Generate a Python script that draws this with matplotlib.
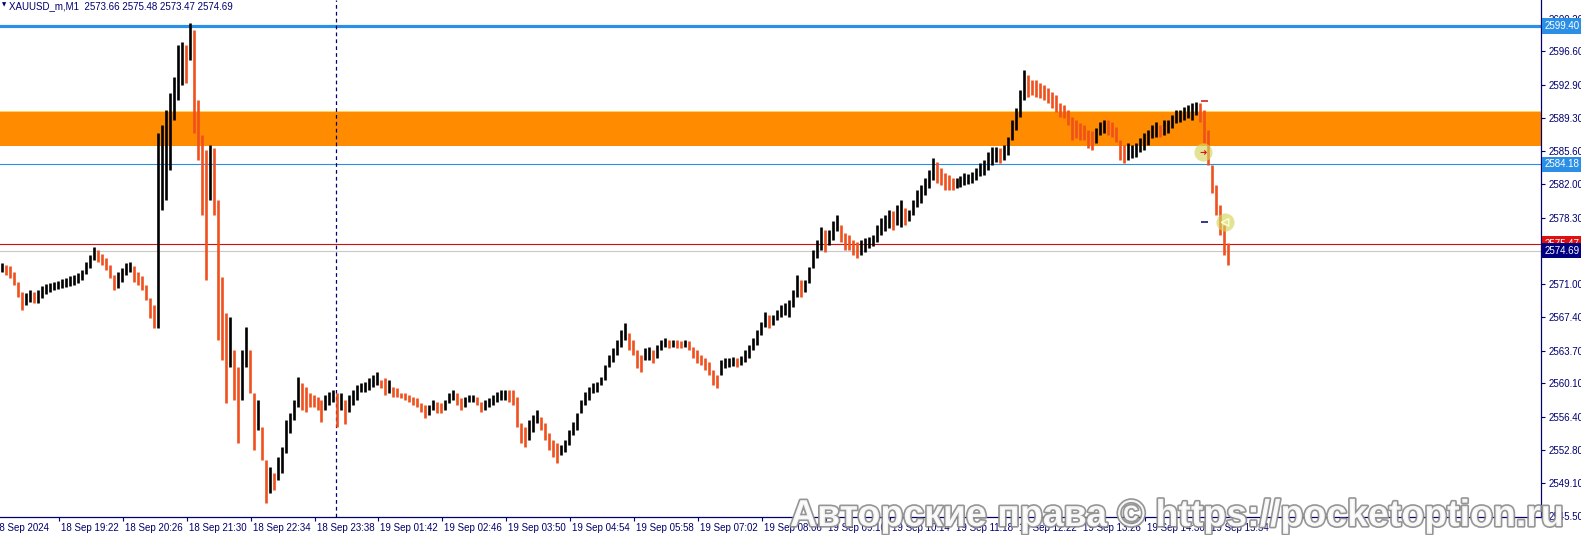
import matplotlib
matplotlib.use("Agg")
import matplotlib.pyplot as plt
import matplotlib.patheffects as pe
from matplotlib.transforms import ScaledTranslation, blended_transform_factory
import numpy as np

plt.rcParams['font.family'] = ['Liberation Sans', 'DejaVu Sans']

# ---------------- data (XAUUSD_m, M1, shown as 4-minute bars) ----------------
symbol_title = "XAUUSD_m,M1  2573.66 2575.48 2573.47 2574.69"

bar_high = [
    2573.3, 2573.1, 2573.0, 2572.3, 2571.2, 2570.1, 2570.0, 2570.4, 2570.1, 2570.4,
    2570.8, 2571.0, 2571.1, 2571.2, 2571.3, 2571.6, 2571.7, 2571.9, 2572.0, 2572.2,
    2572.6, 2573.4, 2574.2, 2575.1, 2574.8, 2574.3, 2573.9, 2573.1, 2572.0, 2572.3,
    2572.8, 2573.3, 2573.4, 2573.0, 2572.3, 2571.9, 2570.9, 2569.5, 2568.7, 2587.6,
    2588.5, 2590.2, 2592.0, 2593.8, 2597.3, 2597.6, 2597.3, 2599.7, 2599.0, 2591.3,
    2587.4, 2585.8, 2586.3, 2586.0, 2580.3, 2571.8, 2567.8, 2567.4, 2563.8, 2561.9,
    2563.8, 2566.3, 2563.8, 2559.0, 2558.3, 2555.3, 2551.7, 2550.9, 2550.2, 2552.0,
    2553.1, 2556.1, 2556.8, 2558.3, 2560.8, 2560.1, 2559.7, 2559.0, 2558.8, 2558.6,
    2558.3, 2558.8, 2559.1, 2559.4, 2559.0, 2559.0, 2558.3, 2558.8, 2559.4, 2559.9,
    2560.1, 2560.2, 2560.7, 2561.0, 2561.3, 2560.5, 2560.7, 2560.5, 2559.7, 2559.6,
    2559.0, 2559.0, 2558.8, 2558.6, 2558.5, 2557.9, 2557.7, 2557.7, 2558.3, 2558.0,
    2557.9, 2558.3, 2559.0, 2559.4, 2559.0, 2558.5, 2558.6, 2558.8, 2558.8, 2558.6,
    2558.0, 2558.3, 2558.5, 2558.8, 2559.1, 2559.4, 2559.4, 2559.4, 2559.4, 2558.6,
    2555.7, 2555.3, 2556.1, 2556.6, 2557.2, 2556.4, 2555.7, 2554.6, 2553.9, 2553.5,
    2553.3, 2553.9, 2555.0, 2555.8, 2556.8, 2558.3, 2559.1, 2559.7, 2560.1, 2560.2,
    2560.8, 2562.1, 2563.2, 2564.0, 2564.9, 2566.0, 2566.7, 2565.6, 2564.9, 2563.8,
    2563.2, 2564.0, 2564.1, 2563.8, 2564.3, 2564.9, 2565.1, 2564.9, 2564.9, 2564.9,
    2564.8, 2564.9, 2564.7, 2564.1, 2563.8, 2563.2, 2562.9, 2562.4, 2561.6, 2561.0,
    2562.7, 2562.9, 2562.9, 2563.0, 2562.9, 2563.1, 2563.8, 2564.3, 2565.1, 2566.0,
    2566.8, 2567.9, 2567.6, 2567.6, 2568.2, 2568.7, 2568.9, 2569.3, 2570.4, 2572.0,
    2571.5, 2571.5, 2572.9, 2574.8, 2575.9, 2577.3, 2577.0, 2577.0, 2577.9, 2578.6,
    2577.5, 2576.6, 2576.4, 2575.9, 2575.6, 2575.9, 2576.1, 2576.2, 2576.4, 2577.5,
    2578.3, 2578.6, 2579.2, 2579.0, 2579.7, 2580.3, 2579.4, 2579.2, 2580.3, 2581.4,
    2581.9, 2582.7, 2583.6, 2584.9, 2584.4, 2583.8, 2583.2, 2583.0, 2582.7, 2582.7,
    2582.9, 2583.2, 2583.1, 2583.3, 2583.8, 2584.3, 2584.7, 2585.5, 2586.1, 2586.1,
    2586.0, 2586.3, 2587.2, 2589.1, 2590.4, 2592.4, 2594.6, 2594.0, 2593.5, 2593.5,
    2593.1, 2592.9, 2592.6, 2592.1, 2591.8, 2590.9, 2590.7, 2590.2, 2589.4, 2589.1,
    2588.7, 2588.5, 2588.0, 2587.8, 2588.2, 2588.8, 2589.1, 2589.1, 2588.8, 2588.3,
    2586.9, 2586.3, 2586.5, 2586.3, 2586.5, 2587.1, 2587.6, 2588.0, 2588.5, 2588.8,
    2588.5, 2589.1, 2589.1, 2589.6, 2590.2, 2590.2, 2590.5, 2590.7, 2590.9, 2591.0,
    2590.9, 2590.2, 2588.0, 2584.1, 2581.9, 2579.7, 2577.5, 2575.5,
]

bar_low = [
    2572.3, 2572.0, 2571.7, 2570.9, 2569.6, 2568.2, 2568.7, 2569.0, 2568.9, 2568.9,
    2569.5, 2569.9, 2570.1, 2570.4, 2570.5, 2570.6, 2570.7, 2570.8, 2570.9, 2571.1,
    2571.5, 2572.1, 2572.8, 2573.7, 2573.4, 2573.1, 2572.6, 2571.7, 2570.4, 2570.6,
    2571.2, 2572.0, 2572.3, 2571.2, 2570.9, 2570.4, 2569.3, 2567.3, 2566.2, 2566.2,
    2579.2, 2580.3, 2583.6, 2589.1, 2591.3, 2592.9, 2593.1, 2595.7, 2587.6, 2584.7,
    2578.6, 2571.5, 2580.3, 2578.6, 2564.9, 2562.7, 2557.9, 2561.9, 2558.3, 2553.5,
    2558.3, 2561.9, 2559.0, 2552.8, 2555.0, 2551.7, 2546.9, 2548.0, 2548.4, 2549.5,
    2550.2, 2552.4, 2554.6, 2556.1, 2557.5, 2557.2, 2556.9, 2557.5, 2557.5, 2557.2,
    2555.8, 2557.2, 2557.7, 2558.0, 2555.3, 2557.2, 2555.6, 2556.9, 2557.7, 2558.3,
    2559.1, 2559.1, 2559.4, 2559.7, 2559.9, 2559.6, 2558.8, 2559.0, 2558.6, 2558.6,
    2558.5, 2558.3, 2558.0, 2557.7, 2557.5, 2556.9, 2556.3, 2556.6, 2557.2, 2556.8,
    2556.8, 2557.2, 2557.9, 2558.3, 2557.7, 2557.2, 2557.5, 2558.0, 2558.0, 2557.7,
    2556.9, 2557.2, 2557.5, 2557.7, 2558.0, 2558.3, 2558.3, 2558.0, 2557.7, 2555.3,
    2553.5, 2553.1, 2553.9, 2554.7, 2555.7, 2555.0, 2553.9, 2552.8, 2552.0, 2551.3,
    2552.2, 2552.5, 2553.3, 2554.4, 2555.0, 2556.8, 2557.7, 2558.3, 2559.0, 2559.1,
    2559.9, 2560.5, 2561.9, 2562.4, 2563.2, 2564.1, 2564.9, 2563.8, 2563.2, 2561.8,
    2561.3, 2562.7, 2562.7, 2562.3, 2562.9, 2563.8, 2564.1, 2564.0, 2564.1, 2564.0,
    2564.0, 2564.1, 2563.8, 2562.9, 2562.3, 2562.1, 2561.6, 2561.0, 2559.9, 2559.6,
    2561.0, 2561.8, 2561.9, 2562.0, 2561.9, 2562.1, 2562.4, 2562.9, 2563.8, 2564.3,
    2565.4, 2566.3, 2566.2, 2566.5, 2567.1, 2567.4, 2567.6, 2567.4, 2568.5, 2569.6,
    2569.6, 2570.1, 2571.1, 2572.8, 2573.9, 2574.8, 2574.5, 2575.3, 2575.9, 2576.8,
    2575.6, 2574.8, 2574.8, 2574.2, 2573.9, 2574.2, 2574.5, 2575.0, 2575.2, 2575.6,
    2576.4, 2576.8, 2577.2, 2577.0, 2577.5, 2577.3, 2577.5, 2577.9, 2578.6, 2579.5,
    2579.9, 2580.8, 2581.6, 2582.5, 2582.1, 2581.9, 2581.4, 2581.4, 2581.4, 2581.6,
    2581.7, 2581.9, 2582.0, 2582.1, 2582.5, 2582.9, 2583.0, 2583.6, 2584.1, 2584.4,
    2584.3, 2584.7, 2585.2, 2586.9, 2588.0, 2589.4, 2591.3, 2591.6, 2591.8, 2591.6,
    2591.5, 2591.3, 2590.9, 2590.4, 2589.9, 2589.4, 2589.3, 2588.5, 2586.9, 2587.1,
    2586.9, 2586.9, 2586.0, 2585.8, 2586.5, 2587.4, 2587.6, 2587.4, 2587.2, 2586.6,
    2584.7, 2584.3, 2584.7, 2584.9, 2585.0, 2585.5, 2585.8, 2586.3, 2587.1, 2587.2,
    2587.2, 2587.4, 2587.6, 2588.2, 2588.7, 2588.8, 2589.1, 2589.3, 2589.1, 2589.6,
    2588.8, 2586.5, 2584.1, 2581.0, 2578.6, 2576.4, 2574.2, 2573.1,
]

time_labels = ["18 Sep 2024", "18 Sep 19:22", "18 Sep 20:26", "18 Sep 21:30",
               "18 Sep 22:34", "18 Sep 23:38", "19 Sep 01:42", "19 Sep 02:46",
               "19 Sep 03:50", "19 Sep 04:54", "19 Sep 05:58", "19 Sep 07:02",
               "19 Sep 08:06", "19 Sep 09:10", "19 Sep 10:14", "19 Sep 11:18",
               "19 Sep 12:22", "19 Sep 13:26", "19 Sep 14:30", "19 Sep 15:34"]

price_ticks = [2600.20, 2596.60, 2592.90, 2589.30, 2585.60, 2582.00, 2578.30,
               2574.60, 2571.00, 2567.40, 2563.70, 2560.10, 2556.40, 2552.80,
               2549.10, 2545.50]

zone_low, zone_high = 2586.20, 2590.05      # orange supply zone
level_thick = 2599.40                        # thick blue level
level_thin = 2584.18                         # thin blue level
ask_price = 2575.47
bid_price = 2574.69

# trade markers (minute index, price)
entry_mark = (1205, 2585.5)
exit_mark = (1227, 2577.8)
sl_dash = (1206, 2591.15)
tp_dash = (1206, 2577.85)
day_separator_minute = 337

# ---------------- figure ----------------
W, H, DPI = 1581, 535, 100
fig = plt.figure(figsize=(W / DPI, H / DPI), dpi=DPI)
fig.patch.set_facecolor('white')
ax = fig.add_axes([0, 18 / H, 1541 / W, 517 / H])
ax.set_facecolor('white')

MIN_PER_BAR = 4
MIN_PER_LABEL = 64
FIRST_LABEL_MIN = 59
FIRST_DATE_MIN = -8
X_MAX = 1541 * 64 / 63.9
Y_MIN, Y_MAX = 2545.39, 2602.26

NAVY = '#000070'
ORANGE_BAR = '#F0501E'
BLUE = '#2B8FE6'

# zone + levels
ax.axhspan(zone_low, zone_high, color='#FF8C00', zorder=1, lw=0)
ax.axhline(zone_high, color='#FFD860', lw=0.7, zorder=1.1)
ax.axhline(level_thick, color=BLUE, lw=2.3, zorder=2)
ax.axhline(level_thin, color=BLUE, lw=0.8, zorder=2)
ax.axhline(ask_price, color='#D01010', lw=0.8, zorder=2)
ax.axhline(bid_price, color='#C8C8C8', lw=0.8, zorder=2)
ax.axvline(day_separator_minute, color=NAVY, lw=0.9, ls=(0, (3, 2.5)), zorder=2)

# bars
hi = np.array(bar_high)
lo = np.array(bar_low)
n = len(hi)
x = np.arange(n) * MIN_PER_BAR + MIN_PER_BAR / 2
mid = (hi + lo) / 2
up = np.r_[True, mid[1:] >= mid[:-1]]
cols = np.where(up, '#000000', ORANGE_BAR)
ax.vlines(x, lo, hi, colors=cols, linewidth=1.9, zorder=5)

# trade markers
ax.scatter([entry_mark[0], exit_mark[0]], [entry_mark[1], exit_mark[1]],
           s=170, c='#D4D460', alpha=0.65, lw=0, zorder=6)
ax.text(entry_mark[0], entry_mark[1], '➜', color='#E01010', fontsize=6.5,
        ha='center', va='center', family='DejaVu Sans', zorder=7)
ax.scatter([exit_mark[0]], [exit_mark[1]], marker='<', s=28,
           facecolors='none', edgecolors='#FFFFD0', linewidths=1.0, zorder=7)
ax.hlines(sl_dash[1], sl_dash[0] - 3.5, sl_dash[0] + 3.5, color='#D01010', lw=1.1, zorder=6)
ax.hlines(tp_dash[1], tp_dash[0] - 3.5, tp_dash[0] + 3.5, color=NAVY, lw=1.1, zorder=6)

# spines
for s in ['top', 'left']:
    ax.spines[s].set_visible(False)
for s in ['right', 'bottom']:
    ax.spines[s].set_color(NAVY)
    ax.spines[s].set_linewidth(0.9)

# y axis (right)
ax.yaxis.tick_right()
ax.set_yticks(price_ticks)
ax.set_yticklabels([f"{v:.2f}" for v in price_ticks])
ax.tick_params(axis='y', length=3, width=0.8, color=NAVY, pad=2.5,
               labelsize=7, labelcolor=NAVY)

# x axis
tick_pos = [FIRST_LABEL_MIN + MIN_PER_LABEL * j for j in range(len(time_labels) - 1)]
ax.set_xticks(tick_pos)
ax.set_xticklabels(time_labels[1:])
ax.tick_params(axis='x', length=3, width=0.8, color=NAVY, pad=1,
               labelsize=7, labelcolor=NAVY)
off = ScaledTranslation(2 / DPI, 0, fig.dpi_scale_trans)
for lab in ax.get_xticklabels():
    lab.set_horizontalalignment('left')
    lab.set_transform(lab.get_transform() + off)

ax.set_xlim(0, X_MAX)
ax.set_ylim(Y_MIN, Y_MAX)

# first (date) label, partly cut at the left edge
first_trans = blended_transform_factory(ax.transData, ax.transAxes) + \
    ScaledTranslation(2 / DPI, -4 / 72, fig.dpi_scale_trans)
ax.text(FIRST_DATE_MIN, 0, time_labels[0], transform=first_trans, ha='left', va='top',
        fontsize=7, color=NAVY, clip_on=False)

# price boxes on right axis
trans = blended_transform_factory(ax.transAxes, ax.transData) + \
    ScaledTranslation(4 / DPI, 0, fig.dpi_scale_trans)
for price, fc in [(level_thick, BLUE), (level_thin, BLUE),
                  (ask_price, '#E01010'), (bid_price, '#000080')]:
    ax.text(1.0, price, f"{price:.2f}", transform=trans, ha='left', va='center',
            fontsize=7, color='white', zorder=10, clip_on=False,
            bbox=dict(boxstyle='square,pad=0.28', fc=fc, ec='none'))

# title
fig.text(1.5 / W, 1 - 2.5 / H, '▼', fontsize=4, color=NAVY, va='top', ha='left',
         family='DejaVu Sans')
fig.text(9 / W, 1 - 1.5 / H, symbol_title, fontsize=7, color=NAVY, va='top', ha='left')

# watermark
fig.text(790 / W, 9 / H, "Авторские права © https://pocketoption.ru",
         fontsize=27, fontweight='bold', color='white', va='baseline', ha='left',
         alpha=0.92, zorder=20,
         path_effects=[pe.Stroke(linewidth=2.4, foreground='#8C8C8C'), pe.Normal()])

fig.savefig('out.png', dpi=DPI, facecolor='white')
